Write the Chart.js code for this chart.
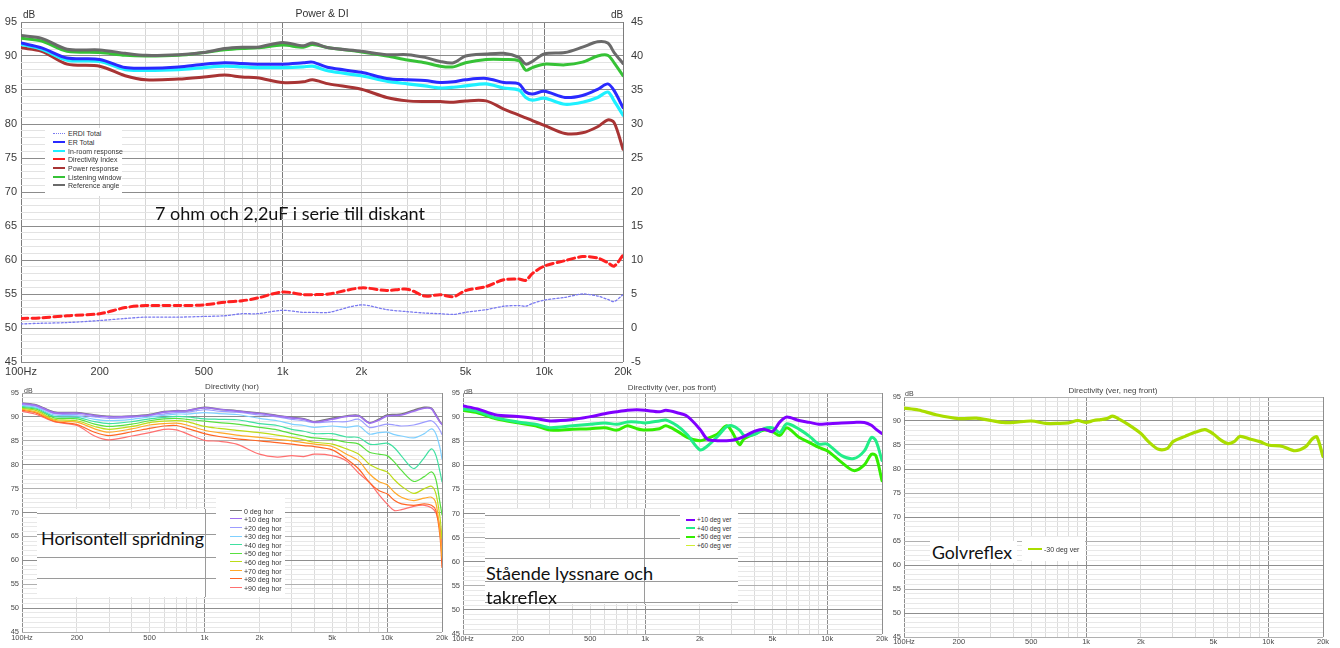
<!DOCTYPE html>
<html><head><meta charset="utf-8">
<script src="https://cdn.jsdelivr.net/npm/chart.js@4.4.1/dist/chart.umd.min.js"></script>
<style>
html,body{margin:0;padding:0;background:#fff;}
body{position:relative;width:1340px;height:648px;overflow:hidden;font-family:"Liberation Sans",Arial,sans-serif;}
canvas{position:absolute;}
.t{position:absolute;white-space:nowrap;line-height:1;color:#333;}
.box{position:absolute;background:#fff;}
.hl{position:absolute;height:1px;background:#9a9a9a;}
.vl{position:absolute;width:1px;background:#9a9a9a;}
.big{position:absolute;white-space:nowrap;font-family:Lato,"Open Sans",sans-serif;color:#111;line-height:1;transform-origin:0 50%;}
.lg{position:absolute;white-space:nowrap;font-size:7px;color:#333;line-height:1;}
.sw{position:absolute;height:0;}
</style></head>
<body>
<canvas id="cTop" width="660" height="382" style="left:0;top:0;width:660px;height:382px"></canvas>
<canvas id="cHor" width="460" height="265" style="left:0;top:383px;width:460px;height:265px"></canvas>
<canvas id="cVp" width="450" height="265" style="left:450px;top:383px;width:450px;height:265px"></canvas>
<canvas id="cVn" width="452" height="265" style="left:888px;top:383px;width:452px;height:265px"></canvas>

<div class="t" style="left:322px;top:13px;font-size:10.5px;transform:translate(-50%,-50%)">Power &amp; DI</div>
<div class="t" style="left:23px;top:15px;font-size:10px;transform:translateY(-50%)">dB</div>
<div class="t" style="left:611px;top:15px;font-size:10px;transform:translateY(-50%)">dB</div>

<div class="t" style="left:232px;top:387px;font-size:8px;color:#444;transform:translate(-50%,-50%)">Directivity (hor)</div>
<div class="t" style="left:24px;top:390px;font-size:7px;color:#444;transform:translateY(-50%)">dB</div>
<div class="t" style="left:672px;top:388px;font-size:8px;color:#444;transform:translate(-50%,-50%)">Directivity (ver, pos front)</div>
<div class="t" style="left:464px;top:391px;font-size:7px;color:#444;transform:translateY(-50%)">dB</div>
<div class="t" style="left:1113px;top:391px;font-size:8px;color:#444;transform:translate(-50%,-50%)">Directivity (ver, neg front)</div>
<div class="t" style="left:905px;top:393px;font-size:7px;color:#444;transform:translateY(-50%)">dB</div>

<script>
// ---------- DATA ----------
const xGridValues = [100,200,300,400,500,600,700,800,900,1000,2000,3000,4000,5000,6000,7000,8000,9000,10000,20000];
const xTickText = {100:'100Hz',200:'200',500:'500',1000:'1k',2000:'2k',5000:'5k',10000:'10k',20000:'20k'};
const diTickValues = [-5,0,5,10,15,20,25,30,35,40,45];

// Power & DI
const freqTop = [100,120,150,200,250,300,400,500,600,700,800,1000,1200,1300,1500,2000,2500,3000,3500,4000,4500,5000,6000,7000,8000,8500,9000,10000,12000,14000,16000,17500,18500,20000];
const erdiTotal = [0.6,0.7,0.8,1.1,1.4,1.6,1.6,1.7,1.8,2.1,2.1,2.6,2.3,2.3,2.3,3.4,2.7,2.4,2.2,2.1,2.0,2.3,2.7,3.2,3.3,3.2,3.6,4.1,4.5,5.0,4.7,4.2,3.9,4.9];
const erTotal = [91.9,91.2,89.7,89.5,88.3,88.2,88.4,88.8,89.0,88.9,88.8,88.8,89.0,89.1,88.3,87.6,86.7,86.5,86.4,86.1,86.2,86.5,86.7,86.1,85.9,84.7,84.4,84.8,83.9,84.2,85.1,85.9,84.9,82.4];
const inRoom = [91.7,91.0,89.4,89.2,88.0,87.9,88.0,88.3,88.5,88.4,88.3,88.3,88.4,88.5,87.8,87.1,86.3,85.9,85.6,85.3,85.4,85.6,85.9,85.3,85.0,83.9,83.5,83.8,82.9,83.2,83.9,84.7,83.4,81.3];
const directivityIndex = [1.4,1.5,1.8,2.1,3.0,3.3,3.3,3.4,3.8,4.0,4.4,5.3,4.9,4.9,5.0,5.9,5.5,5.7,4.7,4.9,4.6,5.5,6.1,7.1,7.2,7.0,8.0,9.1,9.9,10.5,10.3,9.6,9.1,10.7];
const powerResponse = [91.2,90.7,88.8,88.5,87.1,86.5,86.6,86.9,87.2,86.9,86.8,86.1,86.2,86.5,85.9,85.1,83.9,83.4,83.3,83.3,83.2,83.4,83.4,82.2,81.3,80.9,80.5,79.8,78.6,78.7,79.6,80.6,80.2,76.3];
const listeningWindow = [92.6,92.2,90.7,90.5,90.1,90.0,90.1,90.5,90.9,91.1,91.2,91.6,91.3,91.7,91.2,90.6,90.0,89.4,89.0,88.5,88.4,89.0,89.5,89.5,89.3,87.9,88.3,88.8,88.7,89.1,90.0,90.1,89.0,87.1];
const referenceAngle = [93.0,92.6,91.0,90.9,90.4,90.1,90.2,90.5,91.1,91.3,91.3,92.0,91.5,91.9,91.2,90.7,90.2,90.2,89.8,89.2,89.0,90.0,90.3,90.4,89.8,88.8,89.2,90.3,90.5,91.3,92.1,91.9,90.5,88.9];
const topNames = ['ERDI Total','ER Total','In-room response','Directivity Index','Power response','Listening window','Reference angle'];

// Directivity (hor)
const freqHor = [100,120,150,200,250,300,400,500,600,700,800,1000,1200,1500,2000,2500,3000,3500,4000,5000,6000,7000,8000,9000,10000,11000,12000,14000,16000,17500,18500,19500,20000];
const hor0  = [92.9,92.5,91.0,90.9,90.4,90.1,90.2,90.5,91.1,91.3,91.3,92.0,91.6,91.3,90.8,90.3,89.9,89.6,89.0,89.7,90.2,90.3,88.8,89.5,90.4,90.5,90.6,91.4,92.0,91.8,90.5,89.0,88.5];
const hor10 = [92.8,92.4,90.9,90.8,90.3,90.0,90.1,90.4,91.0,91.2,91.3,91.9,91.6,91.2,90.7,90.2,89.8,89.5,88.9,89.5,90.1,90.2,88.7,89.3,90.2,90.3,90.4,91.2,91.8,91.7,90.3,88.9,88.4];
const hor20 = [92.6,92.2,90.7,90.5,90.0,89.7,89.9,90.3,90.6,90.9,91.0,91.5,91.2,91.0,90.4,90.0,89.5,89.2,88.8,89.0,89.0,89.5,87.8,88.1,88.5,88.3,88.1,88.3,88.9,89.2,88.5,87.2,86.3];
const hor30 = [92.4,92.0,90.4,90.2,89.5,89.2,89.5,90.0,90.3,90.6,90.6,90.9,90.7,90.5,89.7,89.2,88.5,88.2,87.8,88.1,87.8,88.1,86.4,86.7,86.8,86.3,86.0,85.6,86.5,87.5,86.5,83.5,81.2];
const hor40 = [92.2,91.8,90.1,89.9,89.0,88.6,89.0,89.6,89.9,90.1,90.0,89.6,89.5,89.4,88.6,88.2,87.4,87.0,86.5,86.5,85.8,85.7,84.3,84.3,84.5,83.5,81.8,79.2,81.5,83.3,82.0,78.5,76.4];
const hor50 = [92.0,91.6,89.8,89.6,88.5,88.0,88.5,89.2,89.6,89.7,89.5,89.1,88.8,88.5,87.8,87.3,86.5,86.0,85.6,85.3,84.7,84.3,82.6,82.2,81.9,80.5,78.8,76.5,77.5,78.5,77.0,72.0,69.5];
const hor60 = [91.8,91.3,89.5,89.2,88.0,87.4,88.0,88.8,89.1,89.2,89.0,88.0,87.6,87.2,86.7,86.2,85.7,85.2,84.7,84.3,83.3,82.2,80.1,79.1,78.5,76.8,75.5,74.0,75.0,75.5,74.0,69.0,64.5];
const hor70 = [91.6,91.0,89.3,88.9,87.5,86.8,87.5,88.3,88.6,88.7,88.3,87.2,86.7,86.2,85.7,85.3,85.0,84.6,84.3,83.8,82.2,80.8,78.1,76.5,75.8,74.2,73.2,72.5,73.0,73.2,72.0,66.0,60.5];
const hor80 = [91.4,90.8,89.1,88.4,86.8,86.1,86.9,87.6,88.1,88.2,87.6,86.5,85.9,85.4,85.0,84.6,84.3,84.0,83.8,83.1,81.2,79.1,76.3,74.6,73.9,72.5,71.8,71.5,71.8,71.5,70.5,65.0,58.5];
const hor90 = [91.2,90.5,89.0,88.2,86.0,85.2,86.0,86.7,87.4,87.3,86.5,85.1,84.9,84.3,82.2,81.6,81.9,81.7,82.2,81.9,80.8,78.2,76.3,73.8,71.8,70.4,70.6,71.3,71.5,71.0,70.0,67.0,63.0];
const horNames = ['0 deg hor','+10 deg hor','+20 deg hor','+30 deg hor','+40 deg hor','+50 deg hor','+60 deg hor','+70 deg hor','+80 deg hor','+90 deg hor'];

// Directivity (ver, pos front)
const freqVer = [100,120,150,200,250,300,400,500,600,700,800,900,1000,1200,1300,1500,1700,2000,2200,2500,2800,3000,3300,3500,4000,4500,5000,5500,6000,7000,8000,9000,10000,12000,14000,16000,17500,18500,20000];
const ver10 = [92.3,91.7,90.5,90.1,89.7,89.2,89.5,90.1,90.7,91.1,91.4,91.5,91.4,91.1,91.4,90.9,90.2,87.5,85.4,85.1,85.1,85.2,85.6,86.0,87.1,87.5,87.0,89.0,90.0,89.3,88.9,88.5,88.6,88.8,88.9,88.9,88.3,87.5,86.6];
const ver40 = [91.7,91.2,89.9,89.0,88.5,87.8,88.2,88.5,88.8,88.5,89.0,89.0,88.8,89.2,89.4,88.2,86.4,83.2,84.0,86.0,88.0,88.2,87.3,86.2,86.4,87.6,87.8,86.8,88.6,87.5,86.0,84.4,84.4,82.0,81.4,83.0,85.8,85.1,81.0];
const ver50 = [91.4,90.9,89.7,88.8,88.2,87.3,87.5,87.6,87.8,87.3,88.2,87.6,87.3,87.6,88.2,87.1,85.8,85.1,85.6,86.5,88.2,87.0,84.3,85.5,86.5,87.3,87.0,86.2,87.8,85.8,84.7,83.7,83.0,80.6,78.9,80.1,82.3,82.0,76.8];
const verNames = ['+10 deg ver','+40 deg ver','+50 deg ver','+60 deg ver'];

// Directivity (ver, neg front)
const freqNeg = [100,120,150,200,250,300,350,400,500,600,700,800,900,1000,1100,1200,1300,1400,1500,1700,2000,2200,2500,2800,3000,3500,4000,4500,5000,5500,6000,6500,7000,8000,9000,10000,12000,14000,16000,17500,18500,20000];
const neg30 = [92.7,92.3,91.3,90.5,90.6,90.1,89.7,89.7,90.0,89.5,89.5,89.6,90.1,89.7,90.1,90.3,90.5,91.0,90.5,89.3,87.4,85.7,84.1,84.3,85.7,86.8,87.7,88.2,87.3,86.0,85.3,85.7,86.8,86.2,85.7,85.0,84.7,83.8,84.6,86.3,86.7,82.6];
const negNames = ['-30 deg ver'];

// ---------- STYLES ----------
const FONT = '"Liberation Sans", Arial, sans-serif';
const topStyle = [
  {c:'#7a7af0', w:1.3, dash:[2,2]},
  {c:'#2a2aff', w:3},
  {c:'#1ef0ff', w:3.2},
  {c:'#ff2020', w:3, dash:[7,4]},
  {c:'#a83434', w:3},
  {c:'#36c236', w:3},
  {c:'#6a6a6a', w:3}
];
const horStyle = ['#777777','#a070f0','#9c9cff','#7fd0ff','#40e0a0','#58e040','#bcdc18','#ffa828','#ff6424','#ff7070'];
const verStyle = [{c:'#8000ff',w:3},{c:'#22ee88',w:3},{c:'#33ee00',w:3},{c:'#d0ee30',w:1}];
const negStyle = [{c:'#aadd00',w:3.2}];

const dbGrid = []; for (let v = 45; v <= 95; v++) dbGrid.push(v);

function pts(fr, vals) { return vals.map((v, i) => ({x: fr[i], y: v})); }

function freqPlot(id, o) {
  const scales = {
    x: {type:'logarithmic', min:100, max:20000,
      afterBuildTicks: s => { s.ticks = xGridValues.map(v => ({value:v})); },
      afterFit: s => { s.height = o.xh; },
      ticks: {autoSkip:false, maxRotation:0, minRotation:0, padding:o.xpad, color:o.tc,
        font:{family:FONT, size:o.fs}, callback: v => xTickText[v] || ''},
      grid: {drawTicks:false, lineWidth:1,
        color: c => ([100,1000,10000,20000].includes(c.tick.value) ? o.gDec : o.gMin)},
      border: {display:false}},
    y: {type:'linear', position:'left', min:45, max:95,
      afterBuildTicks: s => { s.ticks = dbGrid.map(v => ({value:v})); },
      afterFit: s => { s.width = o.yw; },
      ticks: {autoSkip:false, padding:o.ypad, color:o.tc, font:{family:FONT, size:o.fs},
        callback: v => (v % 5 === 0 ? String(v) : '')},
      grid: {drawTicks:false, lineWidth:1,
        color: c => { const v = c.tick.value; return v % 10 === 0 ? o.h10 : (v % 5 === 0 ? o.h5 : o.h1); }},
      border: {display:false}}
  };
  if (o.y2w) {
    scales.y2 = {type:'linear', position:'right', min:-5, max:45,
      afterBuildTicks: s => { s.ticks = diTickValues.map(v => ({value:v})); },
      afterFit: s => { s.width = o.y2w; },
      ticks: {autoSkip:false, padding:o.y2pad, color:o.tc, font:{family:FONT, size:o.fs}},
      grid: {display:false, drawTicks:false}, border: {display:false}};
  }
  return new Chart(document.getElementById(id), {
    type:'line',
    data:{datasets:o.datasets},
    options:{
      responsive:false, animation:false, devicePixelRatio:1,
      layout:{padding:o.pad},
      plugins:{legend:{display:false}, title:{display:false}, tooltip:{enabled:false}},
      elements:{point:{radius:0, hoverRadius:0}, line:{tension:0.3, borderCapStyle:'round', borderJoinStyle:'round'}},
      scales
    }
  });
}

// ---- Top chart ----
const topData = [erdiTotal, erTotal, inRoom, directivityIndex, powerResponse, listeningWindow, referenceAngle];
const topAxis = ['y2','y','y','y2','y','y','y'];
const topDatasets = topData.map((d, i) => ({
  label: topNames[i], data: pts(freqTop, d), yAxisID: topAxis[i],
  borderColor: topStyle[i].c, borderWidth: topStyle[i].w, borderDash: topStyle[i].dash || [],
  fill:false, order: [7,4,5,1,6,3,2][i]
}));
freqPlot('cTop', {datasets: topDatasets, pad:{top:22,left:0,right:0,bottom:0},
  yw:21, y2w:37, xh:20, xpad:3, ypad:4, y2pad:8, fs:11, tc:'#3a3a3a',
  h10:'#8c8c8c', h5:'#8c8c8c', h1:'#e3e3e3', gDec:'#7c7c7c', gMin:'#d6d6d6'});

// ---- Directivity (hor) ----
const horData = [hor0, hor10, hor20, hor30, hor40, hor50, hor60, hor70, hor80, hor90];
const horDatasets = horData.map((d, i) => ({
  label: horNames[i], data: pts(freqHor, d), borderColor: horStyle[i],
  borderWidth: i < 2 ? 1.6 : 1.2, fill:false, order: i === 0 ? 1 : (i === 1 ? 0 : i)
}));
freqPlot('cHor', {datasets: horDatasets, pad:{top:10,left:0,right:18,bottom:0},
  yw:22, xh:16, xpad:1, ypad:3, fs:7.5, tc:'#4a4a4a',
  h10:'#8e8e8e', h5:'#b0b0b0', h1:'#e8e8e8', gDec:'#8e8e8e', gMin:'#dcdcdc'});

// ---- Directivity (ver, pos front) ----
const verData = [ver10, ver40, ver50];
const verDatasets = verData.map((d, i) => ({
  label: verNames[i], data: pts(freqVer, d), borderColor: verStyle[i].c,
  borderWidth: verStyle[i].w, fill:false
}));
freqPlot('cVp', {datasets: verDatasets, pad:{top:10,left:0,right:18,bottom:0},
  yw:13, xh:14, xpad:0, ypad:3, fs:7.5, tc:'#4a4a4a',
  h10:'#8e8e8e', h5:'#b0b0b0', h1:'#e8e8e8', gDec:'#8e8e8e', gMin:'#dcdcdc'});

// ---- Directivity (ver, neg front) ----
freqPlot('cVn', {datasets: [{label: negNames[0], data: pts(freqNeg, neg30), borderColor: negStyle[0].c,
  borderWidth: negStyle[0].w, fill:false}], pad:{top:14,left:0,right:17,bottom:0},
  yw:16, xh:11, xpad:0, ypad:3, fs:7.5, tc:'#4a4a4a',
  h10:'#8e8e8e', h5:'#b0b0b0', h1:'#e8e8e8', gDec:'#8e8e8e', gMin:'#dcdcdc'});

// ---------- OVERLAYS (legends, notes) ----------
function el(cls, css, text) {
  const d = document.createElement('div'); d.className = cls;
  Object.assign(d.style, css); if (text !== undefined) d.textContent = text;
  document.body.appendChild(d); return d;
}
function px(v) { return v + 'px'; }
function box(x, y, w, h) { el('box', {left:px(x), top:px(y), width:px(w), height:px(h)}); }
function hline(x, y, w) { el('hl', {left:px(x), top:px(y), width:px(w)}); }
function vline(x, y, h) { el('vl', {left:px(x), top:px(y), height:px(h)}); }
function legend(names, styles, o) {
  names.forEach((n, i) => {
    const cy = o.y0 + i * o.dy, st = styles[i];
    const lw = st.w;
    const b = st.dash ? (st.dash[0] <= 2 ? 'dotted' : 'dashed') : 'solid';
    el('sw', {left:px(o.sx), width:px(o.sw), top:px(cy - lw / 2), borderTop: lw + 'px ' + b + ' ' + st.c});
    el('lg', {left:px(o.tx), top:px(cy), transform:'translateY(-50%)', fontSize:px(o.fs)}, n);
  });
}
function bigText(txt, x, cy, w, fs) {
  const d = el('big', {left:px(x), top:px(cy - fs * 0.55), fontSize:px(fs)}, txt);
  const k = w / d.getBoundingClientRect().width;
  d.style.transform = 'scaleX(' + k.toFixed(3) + ')';
}

// top legend
box(45, 128, 77, 68);
legend(topNames, topStyle.map(s => ({c:s.c, w:Math.min(s.w, 2), dash:s.dash})),
  {y0:133.3, dy:8.67, sx:53, sw:12, tx:68, fs:7});
bigText('7 ohm och 2,2uF i serie till diskant', 155, 214, 270, 17);

// hor chart notes & legend
box(37, 509, 181, 88);
[513, 534, 557, 578].forEach(y => hline(37, y, 181));
vline(205, 509, 88);
bigText('Horisontell spridning', 41, 539, 163, 17);
box(216, 495, 69, 102);
legend(horNames, horStyle.map(c => ({c, w:1.6})), {y0:510.7, dy:8.55, sx:230, sw:12, tx:244, fs:7});

// ver pos chart
box(485, 509, 253, 95);
hline(485, 515, 253); hline(485, 538, 195);
[558, 581, 602].forEach(y => hline(485, y, 253));
vline(644, 509, 95);
box(680, 510, 58, 45);
legend(verNames, verStyle.map(s => ({c:s.c, w:s.w === 1 ? 1 : 2.5})), {y0:520, dy:8.5, sx:686, sw:9, tx:697, fs:6.5});
bigText('Stående lyssnare och', 486, 574, 167, 17);
bigText('takreflex', 486, 598, 71, 17);

// ver neg chart
box(930, 541, 87, 22);
bigText('Golvreflex', 932, 553, 80, 17);
box(1022, 537, 63, 24);
legend(negNames, negStyle.map(s => ({c:s.c, w:2.5})), {y0:549, dy:9, sx:1028, sw:14, tx:1044, fs:7});
</script>
</body></html>
